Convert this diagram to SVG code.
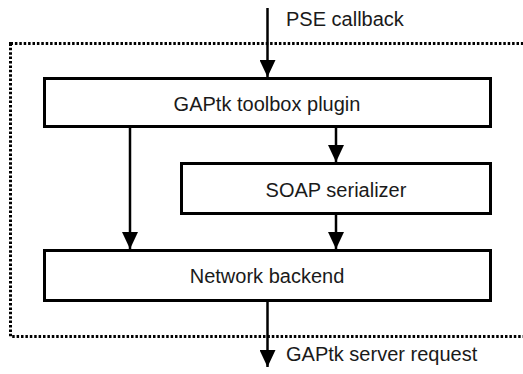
<svg xmlns="http://www.w3.org/2000/svg" width="523" height="374" viewBox="0 0 523 374">
<style>
.box{fill:#fff;stroke:#000;stroke-width:3}
.lbl{font-family:"Liberation Sans",Arial,sans-serif;font-size:20px;fill:#1a1a1a}
.c{text-anchor:middle}
.con{stroke:#000;stroke-width:2.5;fill:none;marker-end:url(#ah)}
.frame{fill:none;stroke:#000;stroke-width:3;stroke-dasharray:2.5 1.9}
</style>
<defs>
<marker id="ah" viewBox="0 0 17 16" refX="17" refY="8" markerWidth="17" markerHeight="16" markerUnits="userSpaceOnUse" orient="auto">
<path d="M0,0 L17,8 L0,16 z" fill="#000"/>
</marker>
</defs>
<rect id="frame" class="frame" x="10.5" y="43.5" width="520" height="293"/>
<g id="connectors">
<line class="con" x1="267.5" y1="8" x2="267.5" y2="77"/>
<line class="con" x1="130" y1="128" x2="130" y2="249"/>
<line class="con" x1="336" y1="128" x2="336" y2="162"/>
<line class="con" x1="336" y1="215" x2="336" y2="249"/>
<line class="con" x1="267.5" y1="302" x2="267.5" y2="367"/>
</g>
<g id="plugin">
<rect class="box" x="44.5" y="78.5" width="446" height="48"/>
<text class="lbl c" x="267" y="111">GAPtk toolbox plugin</text>
</g>
<g id="soap">
<rect class="box" x="181.5" y="163.5" width="309" height="50"/>
<text class="lbl c" x="336" y="196.5">SOAP serializer</text>
</g>
<g id="network">
<rect class="box" x="44.5" y="250.5" width="446" height="50"/>
<text class="lbl c" x="267" y="283">Network backend</text>
</g>
<g id="labels">
<text class="lbl" x="286" y="25.5">PSE callback</text>
<text class="lbl" x="286" y="361">GAPtk server request</text>
</g>
</svg>
